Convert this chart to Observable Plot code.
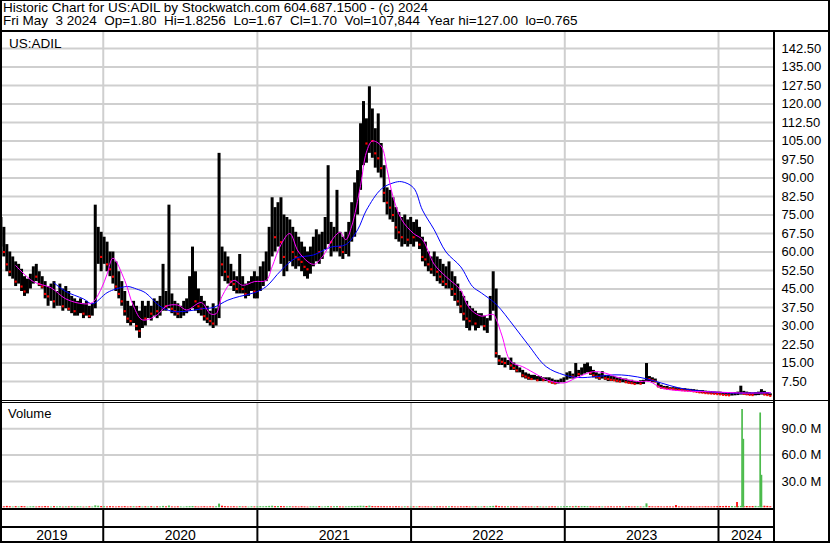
<!DOCTYPE html>
<html><head><meta charset="utf-8">
<script src="https://cdn.jsdelivr.net/npm/d3@7"></script>
<script src="https://cdn.jsdelivr.net/npm/@observablehq/plot@0.6"></script>
<style>
html,body{margin:0;padding:0;background:#fff;}
#root{position:relative;width:830px;height:543px;overflow:hidden;background:#fff;font-family:"Liberation Sans",Arial,sans-serif;color:#000;}
.abs{position:absolute;}
.ln{position:absolute;background:#000;}
</style></head><body>
<div id="root">
 <div class="abs" id="title" style="left:3px;top:1px;font-size:13.5px;line-height:13px;white-space:pre;"></div>
 <div class="abs" id="price" style="left:0;top:32px;"></div>
 <div class="abs" id="volume" style="left:0;top:403px;"></div>
 <div class="abs" id="years" style="left:0;top:509px;"></div>
 <div class="abs" id="sym" style="left:9px;top:36px;font-size:13.5px;"></div>
 <div class="abs" id="vlab" style="left:8px;top:406px;font-size:13px;"></div>
 <div class="ln" style="left:0;top:0;width:830px;height:1px;"></div>
 <div class="ln" style="left:0;top:30px;width:830px;height:2px;"></div>
 <div class="ln" style="left:0;top:0;width:2px;height:543px;"></div>
 <div class="ln" style="left:828px;top:0;width:2px;height:543px;"></div>
 <div class="ln" style="left:773px;top:31px;width:2px;height:512px;"></div>
 <div class="ln" style="left:0;top:400px;width:830px;height:1px;"></div>
 <div class="ln" style="left:0;top:402px;width:774px;height:1px;"></div>
 <div class="ln" style="left:0;top:508px;width:774px;height:2px;"></div>
 <div class="ln" style="left:0;top:526px;width:774px;height:2px;"></div>
 <div class="ln" style="left:0;top:541px;width:830px;height:2px;"></div>
</div>
<script>
const symbol = "US:ADIL";
const volumeLabel = "Volume";
const titleLines = [
  "Historic Chart for US:ADIL by Stockwatch.com 604.687.1500 - (c) 2024",
  "Fri May  3 2024  Op=1.80  Hi=1.8256  Lo=1.67  Cl=1.70  Vol=107,844  Year hi=127.00  lo=0.765"
];
const firstWeek = "2019-05-03";   // weekly bars, one per week
const highs = [
 74,70,63,60,58,56,55,53,50,49, 51,54,55,52,50,48,46,47,48,44,
 47,45,46,44,42,41,40,41,39,40, 38,39,79,70,68,66,64,60,60,56,
 52,48,44,40,38,40,38,36,40,38, 40,38,41,40,42,55,44,79,43,40,
 39,38,40,41,50,62,52,45,42,40, 38,36,39,37,100,62,60,58,55,52,
 50,59,50,47,48,50,52,50,54,56, 60,70,82,78,80,82,75,74,73,70,
 68,66,64,62,60,62,66,69,67,68, 74,95,72,70,85,68,66,68,72,80,
 88,93,112,121,114,127,118,110,116,104, 95,86,85,82,78,76,74,75,73,74,
 72,73,70,66,64,60,58,60,58,57, 55,54,56,52,50,47,44,42,40,38,
 37,36,35,35,34,33,42,52,45,18, 17,17,16,17,15,14,13,12,11,10.5,
 10,10,9.5,9.5,9,9,9,8.5,8,8, 8.5,9,11,11.5,10.5,14.8,12,13,14.5,15,
 13.5,12,11,10.5,11.5,10,10,9.5,9.5,9, 9,8.5,8.5,8,8,7.5,7.5,7.8,8,14.8,
 9.5,9,8.5,7,6,5.5,5.5,5,5,5, 4.8,4.5,4.6,4.4,4.3,4.2,4,3.8,3.8,3.6,
 3.5,3.4,3.3,3.2,3.2,3,3,2.8,2.8,3, 3.2,5.6,3.5,3.2,3,2.9,3,3.2,4.2,3.5,3,2.5
];
const lows = [
 62,58,52,50,49,46,47,44,42,43, 45,47,48,46,45,41,38,40,37,38,
 38,36,37,36,35,34,34,35,33,34, 33,34,37,55,52,55,52,50,47,44,
 41,38,34,31,30,31,28,25,29,30, 33,32,34,33,34,36,36,37,35,34,
 33,33,34,35,36,37,36,35,34,32, 31,30,29,30,33,50,48,47,46,44,
 43,43,43,41,42,44,41,41,44,46, 48,52,58,60,62,55,50,52,56,54,
 53,54,52,50,49,51,54,56,55,57, 61,63,58,60,60,58,57,59,58,64,
 66,75,85,95,96,100,98,94,92,90, 80,75,73,72,65,64,62,63,62,63,
 62,64,61,56,54,52,51,50,48,47, 46,45,45,42,40,38,35,32,29,28,
 30,28,29,30,28,27,32,36,17,14, 14,13,14,12,12,11,11,9,8.5,8,
 8,8,7.5,7.5,7.5,7.5,7,6.5,6.2,6.5, 7,7,8,8.5,8.5,9,9.5,10,10.5,11,
 10,9,8.5,8,8.5,8,7.5,7.5,7.5,7, 7,7,6.8,6.5,6.3,6.2,6.2,6.2,6.3,7.5,
 7.5,7,7,5,4.5,4.3,4.2,4.2,4,3.8, 3.8,3.6,3.6,3.5,3.4,3.2,3,2.8,2.6,2.5,
 2.4,2.3,2.2,2.2,2,1.8,1.7,1.6,1.6,1.7, 1.8,2,2,1.9,1.8,1.7,1.7,1.8,2,1.9,1.7,1.67
];
const closes = [
 66,60,55,52,54,48,50,46,44,47, 49,52,50,47,46,43,42,44,40,41,
 42,38,40,37,38,36,37,38,35,37, 34,36,60,62,58,60,55,53,50,46,
 43,40,36,33,32,35,30,28,34,33, 36,35,37,36,38,40,38,42,37,36,
 35,35,37,38,44,46,40,38,37,34, 33,32,31,33,58,55,52,50,48,47,
 45,46,45,43,45,47,44,46,50,52, 55,62,70,66,70,64,58,62,64,60,
 58,57,56,54,53,56,60,62,60,63, 66,70,64,65,66,62,60,63,66,74,
 80,86,100,110,104,112,105,100,98,94, 84,80,78,75,70,68,66,68,65,68,
 66,67,63,58,57,55,53,54,52,50, 48,47,48,45,43,40,38,35,33,32,
 33,31,32,32,30,31,38,44,19,16, 15.5,15,15,14,13,12,12,10,9.5,9,
 8.5,9,8,8.5,8,8,7.5,7,6.8,7.2, 7.5,8,9.5,10,9.5,11,10.5,11.5,12,12.5,
 11,10,9.5,9,9.5,8.8,8.5,8.2,8,7.8, 7.5,7.5,7.2,7,6.8,6.5,6.8,6.6,7,9,
 8.5,8,7.5,5.5,5,4.8,4.6,4.5,4.4,4.2, 4.1,4,3.9,3.8,3.7,3.5,3.3,3.1,3,2.8,
 2.7,2.6,2.5,2.4,2.3,2.1,2,1.9,2,2.2, 2.4,2.8,2.5,2.3,2.1,2,2.2,2.4,2.6,2.2,2,1.7
];
// weekly volume, millions of shares
const volumes = [
 1.4,1.1,1.6,1.2,0.9,1.3,1.0,1.5,1.2,0.8, 1.1,1.3,0.9,1.2,1.0,1.4,1.1,0.9,1.3,1.0,
 1.2,0.8,1.1,1.0,1.3,0.9,1.2,1.1,0.8,1.0, 1.1,0.9,2.2,1.8,1.4,1.2,1.0,1.3,1.1,0.9,
 1.2,1.0,1.3,0.9,1.1,1.2,1.0,1.4,0.9,1.1, 1.0,1.2,0.8,1.1,1.0,1.6,1.1,2.0,1.0,0.9,
 1.1,1.0,0.8,1.2,1.3,1.5,1.1,0.9,1.0,1.2, 0.9,1.1,1.0,1.2,4.2,1.8,1.3,1.1,1.0,1.2,
 0.9,1.3,1.0,1.1,0.8,1.2,1.0,1.1,1.3,1.2, 1.4,1.6,1.8,1.3,1.5,1.4,1.2,1.1,1.3,1.0,
 1.1,0.9,1.2,1.0,0.8,1.1,1.2,1.0,1.3,0.9, 1.1,1.5,1.0,1.2,1.4,1.0,0.9,1.1,1.2,1.4,
 1.5,1.6,1.8,1.7,1.5,1.9,1.4,1.2,1.3,1.1, 1.2,1.0,1.1,0.9,1.2,1.0,0.8,1.1,1.0,0.9,
 1.1,1.0,1.2,0.9,1.1,1.0,0.8,1.2,1.0,1.1, 0.9,1.0,1.1,1.2,1.0,0.9,1.1,1.0,1.3,0.9,
 1.0,1.1,0.9,1.0,1.2,1.0,1.4,1.6,1.9,1.3, 1.1,1.0,1.2,0.9,1.1,1.0,0.8,1.0,1.1,0.9,
 1.0,0.9,1.1,1.0,0.8,1.0,0.9,1.1,1.0,0.9, 1.0,1.2,1.4,1.3,1.1,1.6,1.2,1.3,1.5,1.2,
 1.1,1.0,0.9,1.1,1.0,0.9,1.0,1.1,0.9,1.0, 1.1,0.9,1.0,1.2,0.9,1.0,1.1,0.9,1.0,4.5,
 1.3,1.1,1.0,1.2,1.0,0.9,1.1,1.0,0.9,2.5, 1.0,1.1,0.9,1.0,1.2,1.0,0.9,1.1,1.0,1.2,
 1.1,1.0,1.2,1.3,1.5,1.4,1.6,1.3,1.5,1.2, 1.4,1.6,1.3,1.5,1.2,1.4,1.6,1.3,1.5,1.8,1.6,1.2
];
// single-day volume spikes of 2024
const spikeDates = ["2024-02-14","2024-02-26","2024-02-29","2024-04-09","2024-04-12"];
const spikeVolumes = [6, 112, 78, 108, 37];
const spikeUp = [false, true, true, true, true];
// moving averages sampled at week indices
const fastMaWeek = [5,11,17,22,28,31,34,36,38,42, 45,48,53,56,60,63,68,71,73,75, 79,82,86,90,92,95,98,101,106,109,
 113,115,117,119,122,124,126,129,131,133, 136,140,143,147,151,156,158,160,163,167, 168,170,173,177,182,185,191,195,201,205,
 210,216,220,224,230,241,253,261];
const fastMa = [54.5,48,45.5,41,39,39.5,45,51,57.5,48.5, 38,32.5,34.5,38,38.5,36.5,39.5,35,35,42, 48.5,46.5,48,48.5,54,63,67.5,60,55,58,
 66,68,65,70.5,87,100.5,105,103,93.5,82.5, 73,67.5,65,55,50,44.5,39,36,34,34.7, 32.8,26,15.5,13.5,10.2,8.2,6.9,8.9,11.5,10.9,
 8.9,7.5,7.5,4.9,3.8,3.3,2.8,2.9];
const slowMaWeek = [18,22,28,31,36,39,43,46,49,54, 58,63,68,72,77,81,86,90,95,100, 106,112,117,121,124,129,133,136,140,143,
 147,151,156,160,163,168,174,179,185,191, 196,202,208,213,219,224,230,236,241,248, 261];
const slowMa = [47.5,44,41,39,43.5,45,46,45,43.5,38, 36,36,37,37.5,40.5,42,43.5,46,52.5,57.5, 58.8,62,63,69,77,85.5,88,88.5,86,77,
 69,60,54,46,43.4,38.8,30,22.2,13.5,10.2, 9.1,9.5,10.2,9.9,8.6,6.9,4.9,3.8,3.3,2.8, 3];
const priceTicks = [7.5,15,22.5,30,37.5,45,52.5,60,67.5,75,82.5,90,97.5,105,112.5,120,127.5,135,142.5];
const volumeTicks = [30, 60, 90];
const years = [2019, 2020, 2021, 2022, 2023, 2024];
const xStart = "2019-05-02", xEnd = "2024-05-13";

// ---- build ----
document.getElementById("title").textContent = titleLines.join("\n");
document.getElementById("sym").textContent = symbol;
document.getElementById("vlab").textContent = volumeLabel;

const t0 = new Date(firstWeek + "T00:00Z");
const weekDate = i => new Date(+t0 + i * 7 * 864e5);
const rows = highs.map((h, i) => ({date: weekDate(i), high: h, low: lows[i], close: closes[i], vol: volumes[i],
  up: i === 0 ? true : closes[i] >= closes[i - 1]}));
const downRows = rows.filter(d => !d.up);
const fast = fastMaWeek.map((w, k) => ({date: weekDate(w), v: fastMa[k]}));
const slow = slowMaWeek.map((w, k) => ({date: weekDate(w), v: slowMa[k]}));
const spikes = spikeDates.map((d, k) => ({date: new Date(d + "T00:00Z"), vol: spikeVolumes[k], up: spikeUp[k]}));
const xDomain = [new Date(xStart + "T00:00Z"), new Date(xEnd + "T00:00Z")];
const yearStarts = years.slice(1).map(y => new Date(Date.UTC(y, 0, 1)));
const yearLabels = years.map(y => {
  const a = Math.max(+xDomain[0], Date.UTC(y, 0, 1)), b = Math.min(+xDomain[1], Date.UTC(y + 1, 0, 1));
  return {mid: new Date((a + b) / 2), label: String(y)};
});
const GRID = "#cfcfcf";
const style = {background: "transparent", fontFamily: "'Liberation Sans', Arial, sans-serif", fontSize: "13px", overflow: "visible", color: "#000"};
const xOpt = {type: "utc", domain: xDomain, range: [0, 774], axis: null};

const price = Plot.plot({
  width: 830, height: 368, marginTop: 0, marginRight: 56, marginBottom: 0, marginLeft: 0, style,
  x: xOpt,
  y: {domain: [-0.2, 149], range: [368, 0], axis: null},
  marks: [
    Plot.ruleY(priceTicks, {stroke: GRID, strokeWidth: 2}),
    Plot.ruleX(yearStarts, {stroke: GRID, strokeWidth: 2}),
    Plot.ruleX(rows, {x: "date", y1: "low", y2: "high", stroke: "#000", strokeWidth: 3}),
    Plot.dot(downRows, {x: "date", y: "close", symbol: "square", r: 1.2, fill: "#ff0000", stroke: null}),
    Plot.line(slow, {x: "date", y: "v", stroke: "#0000ff", strokeWidth: 1, curve: "catmull-rom"}),
    Plot.line(fast, {x: "date", y: "v", stroke: "#ff00ff", strokeWidth: 1, curve: "catmull-rom"}),
    Plot.axisY(priceTicks, {anchor: "right", label: null, tickSize: 0, tickPadding: 7, tickFormat: d => d.toFixed(2), fontSize: 13, fill: "#000"})
  ]
});
document.getElementById("price").appendChild(price);

const volume = Plot.plot({
  width: 830, height: 106, marginTop: 0, marginRight: 56, marginBottom: 0, marginLeft: 0, style,
  x: xOpt,
  y: {domain: [-1.94, 118.8], range: [106, 0], axis: null, label: null},
  marks: [
    Plot.ruleY(volumeTicks, {stroke: GRID, strokeWidth: 2}),
    Plot.ruleX(yearStarts, {stroke: GRID, strokeWidth: 2}),
    Plot.ruleX(rows, {x: "date", y1: 0, y2: "vol", stroke: d => d.up ? "#4cbb4c" : "#ff0000", strokeWidth: 2}),
    Plot.ruleX(spikes, {x: "date", y1: 0, y2: "vol", stroke: d => d.up ? "#4cbb4c" : "#ff0000", strokeWidth: 1.7}),
    Plot.axisY(volumeTicks, {anchor: "right", label: null, tickSize: 0, tickPadding: 7, tickFormat: d => d.toFixed(1) + " M", fontSize: 13, fill: "#000"})
  ]
});
document.getElementById("volume").appendChild(volume);

const yearsPlot = Plot.plot({
  width: 830, height: 34, marginTop: 0, marginRight: 56, marginBottom: 0, marginLeft: 0, style,
  x: xOpt,
  marks: [
    Plot.ruleX(yearStarts, {stroke: "#000", strokeWidth: 2}),
    Plot.text(yearLabels, {x: "mid", text: "label", frameAnchor: "middle", dy: 9, fontSize: 14, fill: "#000"})
  ]
});
document.getElementById("years").appendChild(yearsPlot);
</script>
</body></html>
